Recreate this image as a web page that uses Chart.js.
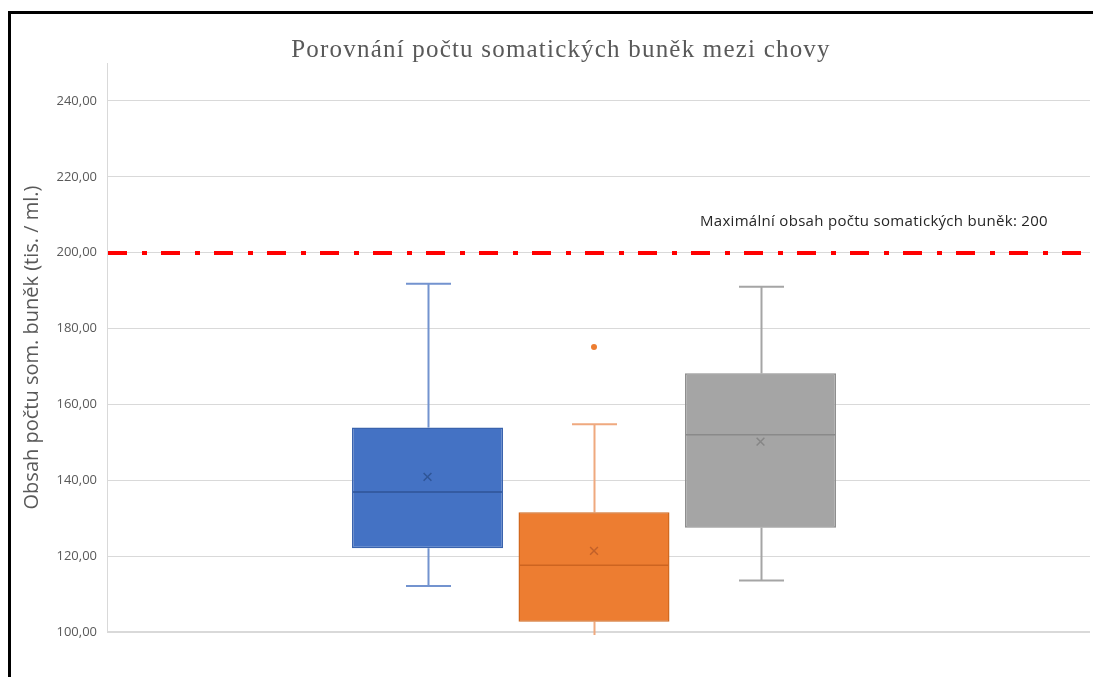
<!DOCTYPE html>
<html><head><meta charset="utf-8">
<script src="https://cdn.jsdelivr.net/npm/chart.js@4.4.1/dist/chart.umd.min.js"></script>
<style>
html,body{margin:0;padding:0;background:#fff;}
#wrap{position:relative;width:1093px;height:677px;overflow:hidden;background:#fff;}
#frame{position:absolute;left:8px;top:11px;width:1200px;height:800px;border-left:3px solid #000;border-top:3px solid #000;pointer-events:none;}
canvas{position:absolute;left:0;top:0;}
</style></head><body>
<div id="wrap"><canvas id="c" width="1097" height="677"></canvas><div id="frame"></div></div>
<script>
// ---- data ----
const chartTitle = 'Porovnání počtu somatických buněk mezi chovy';
const yAxisTitle = 'Obsah počtu som. buněk (tis. / ml.)';
const limitLabel = 'Maximální obsah počtu somatických buněk: 200';
const categories = ['Chov 1', 'Chov 2', 'Chov 3'];
const whiskerMin = [112.1, 99.2, 113.6];
const q1 = [122.1, 102.7, 127.5];
const median = [136.9, 117.6, 152.0];
const q3 = [153.9, 131.6, 168.2];
const whiskerMax = [191.8, 154.8, 191.0];
const means = [140.9, 121.4, 150.2];
const outliers = [[], [175.1], []];
const limitValue = 200;
const yTicks = [100, 120, 140, 160, 180, 200, 220, 240];
const yMin = 100, yMax = 250;

// ---- styles ----
const fills = ['#4472C4', '#ED7D31', '#A5A5A5'];
const borders = ['#3A63AD', '#D2691F', '#8E8E8E'];
const whiskerCols = ['#7393CF', '#EFA97F', '#A5A5A5'];
const medianCols = ['#2F5597', '#CD6420', '#8A8A8A'];
const meanCols = ['#2F5597', '#C2612A', '#868686'];

const boxPlugin = {
  id: 'boxExtras',
  beforeDatasetsDraw(chart) {
    const {ctx, chartArea, scales: {x, y}} = chart;
    // limit line
    ctx.save();
    ctx.strokeStyle = '#FF0000';
    ctx.lineWidth = 4;
    ctx.setLineDash([19, 15, 5, 14]);
    const ly = Math.round(y.getPixelForValue(limitValue));
    ctx.beginPath();
    ctx.moveTo(chartArea.left + 1, ly);
    ctx.lineTo(chartArea.right, ly);
    ctx.stroke();
    ctx.restore();
    // whiskers
    ctx.save();
    ctx.lineWidth = 2;
    categories.forEach((c, i) => {
      const px = Math.round(x.getPixelForValue(i)) + 0.5;
      ctx.strokeStyle = whiskerCols[i];
      const yTop = y.getPixelForValue(whiskerMax[i]);
      const yQ3 = y.getPixelForValue(q3[i]);
      const yQ1 = y.getPixelForValue(q1[i]);
      const yBot = y.getPixelForValue(whiskerMin[i]);
      ctx.beginPath();
      ctx.moveTo(px, yQ3); ctx.lineTo(px, yTop);
      ctx.moveTo(px, yQ1); ctx.lineTo(px, yBot);
      ctx.moveTo(px - 22.5, yTop); ctx.lineTo(px + 22.5, yTop);
      if (whiskerMin[i] >= yMin) { ctx.moveTo(px - 22.5, yBot); ctx.lineTo(px + 22.5, yBot); }
      ctx.stroke();
    });
    ctx.restore();
  },
  afterDatasetDraw(chart, args) {
    if (args.index !== 0) return;
    const {ctx, scales: {y}} = chart;
    const meta = chart.getDatasetMeta(0);
    ctx.save();
    ctx.lineWidth = 1.5;
    meta.data.forEach((bar, i) => {
      const my = y.getPixelForValue(median[i]);
      ctx.strokeStyle = medianCols[i];
      ctx.beginPath();
      ctx.moveTo(bar.x - bar.width / 2 + 1, my);
      ctx.lineTo(bar.x + bar.width / 2 - 1, my);
      ctx.stroke();
    });
    ctx.restore();
  },
  afterDraw(chart) {
    const {ctx, chartArea, scales: {y}} = chart;
    ctx.save();
    ctx.fillStyle = '#595959';
    ctx.font = '25px "Liberation Serif"';
    ctx.letterSpacing = '1.2px';
    ctx.textAlign = 'center';
    ctx.textBaseline = 'alphabetic';
    ctx.fillText(chartTitle, 561, 57);
    ctx.fillStyle = '#262626';
    ctx.font = '15px "Open Sans"';
    ctx.letterSpacing = '0.3px';
    ctx.textAlign = 'right';
    ctx.fillText(limitLabel, chartArea.right - 42, y.getPixelForValue(limitValue) - 27);
    ctx.restore();
  }
};

new Chart(document.getElementById('c'), {
  data: {
    datasets: [
      {
        type: 'bar',
        label: 'box',
        data: categories.map((c, i) => ({x: i, y: [q1[i], q3[i]]})),
        backgroundColor: fills,
        borderColor: borders,
        borderWidth: 1.5,
        borderSkipped: false,
        grouped: false,
        categoryPercentage: 1,
        barPercentage: 0.907,
        order: 2
      },
      {
        type: 'scatter',
        label: 'mean',
        data: categories.map((c, i) => ({x: i, y: means[i]})),
        pointStyle: 'crossRot',
        pointRadius: 5.5,
        borderColor: meanCols,
        borderWidth: 1.5,
        order: 1
      },
      {
        type: 'scatter',
        label: 'outliers',
        data: outliers.flatMap((arr, i) => arr.map(v => ({x: i, y: v}))),
        pointStyle: 'circle',
        pointRadius: 3,
        backgroundColor: fills[1],
        borderColor: fills[1],
        borderWidth: 0,
        order: 0
      }
    ]
  },
  options: {
    responsive: false,
    animation: false,
    events: [],
    layout: {padding: {left: 16, right: 3, top: 63, bottom: 45}},
    plugins: {legend: {display: false}, tooltip: {enabled: false}, title: {display: false}},
    scales: {
      x: {type: 'linear', display: false, offset: false, min: -1.925, max: 3.979,
          ticks: {stepSize: 1, includeBounds: false}},
      y: {
        min: yMin, max: yMax,
        afterFit: s => { s.width = 91; },
        afterBuildTicks: s => { s.ticks = yTicks.map(v => ({value: v})); },
        ticks: {
          padding: 10,
          color: '#595959',
          font: {family: 'Open Sans', size: 13},
          callback: v => v.toFixed(2).replace('.', ',')
        },
        grid: {
          color: '#D9D9D9',
          drawTicks: false,
          lineWidth: ctx => (ctx.tick && ctx.tick.value === yMin ? 2 : 1)
        },
        border: {display: true, color: '#D9D9D9', width: 1},
        title: {
          display: true, text: yAxisTitle, color: '#595959',
          font: {family: 'Open Sans', size: 20}, padding: {top: 4, bottom: 4}
        }
      }
    }
  },
  plugins: [boxPlugin]
});
</script>
</body></html>
